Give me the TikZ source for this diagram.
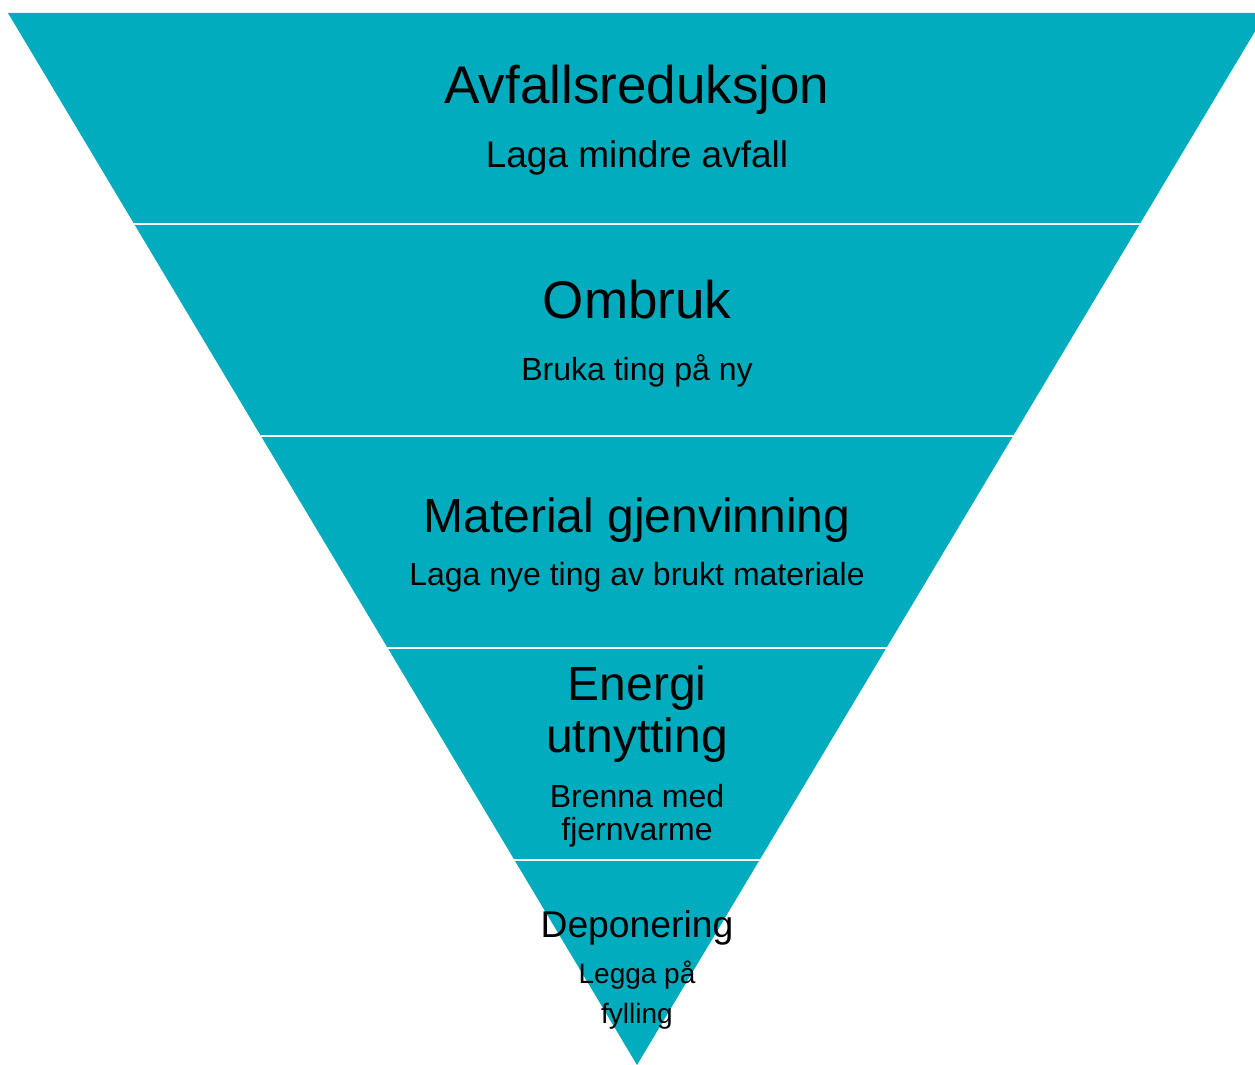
\documentclass[tikz,border=0pt]{standalone}
\usepackage{fontspec}
\setmainfont{Liberation Sans}
\definecolor{teal}{RGB}{0,172,190}
\begin{document}
\begin{tikzpicture}[x=1pt,y=-1pt,
  lbl/.style={anchor=base,inner sep=0pt,text=black},
  big/.style={lbl,font=\fontsize{53}{60}\selectfont},
  mid/.style={lbl,font=\fontsize{48}{54}\selectfont},
  sub/.style={lbl,font=\fontsize{32}{36}\selectfont},
  sep/.style={draw=white,line width=2.6pt}]
\useasboundingbox (0,0) rectangle (1255,1065);
\clip (0,0) rectangle (1255,1065);
\fill[teal] (8,13) -- (1266,13) -- (637,1065) -- cycle;
\begin{scope}
\clip (8,13) -- (1266,13) -- (637,1065) -- cycle;
\foreach \y in {224,436,648,860} \draw[sep] (0,\y) -- (1300,\y);
\end{scope}
\node[big] (t1) at (637,103) {Avfallsreduksjon};
\node[lbl,font=\fontsize{37}{42}\selectfont] (s1) at (637,167) {Laga mindre avfall};
\node[big] (t2) at (637,318) {Ombruk};
\node[sub] (s2) at (637,380) {Bruka ting på ny};
\node[mid] (t3) at (637,532) {Material gjenvinning};
\node[sub] (s3) at (637,585) {Laga nye ting av brukt materiale};
\node[mid] (t4a) at (637,700) {Energi};
\node[mid] (t4b) at (637,752) {utnytting};
\node[sub] (s4a) at (637,807) {Brenna med};
\node[sub] (s4b) at (637,840) {fjernvarme};
\node[lbl,font=\fontsize{37.3}{42}\selectfont] (t5) at (637,937) {Deponering};
\node[lbl,font=\fontsize{28}{32}\selectfont] (s5a) at (637,983) {Legga på};
\node[lbl,font=\fontsize{28}{32}\selectfont] (s5b) at (637,1023) {fylling};
\end{tikzpicture}
\end{document}
